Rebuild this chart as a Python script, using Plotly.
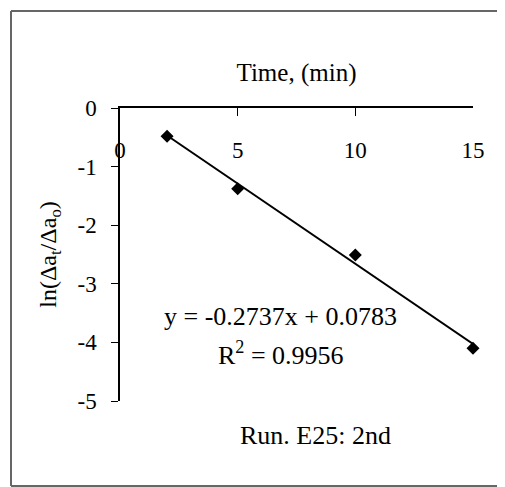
import plotly.graph_objects as go

time_min = [2, 5, 10, 15]
ln_ratio = [-0.48, -1.38, -2.51, -4.10]
slope = -0.2737
intercept = 0.0783
trend_x = [2, 15]
trend_y = [slope * x + intercept for x in trend_x]
x_ticks = [0, 5, 10, 15]
x_labels = ["0", "5", "10", "15"]
y_ticks = [0, -1, -2, -3, -4, -5]
y_labels = ["0", "-1", "-2", "-3", "-4", "-5"]

FONT = "Liberation Serif"
OFF = 8  # page body margin
W, H = 505 - OFF, 487 - OFF
L, R, T, B = 120 - OFF, W - (473 - OFF), 108 - OFF, H - (401 - OFF)
PW, PH = W - L - R, H - T - B

def px_y(p):
    return (H - B - (p - OFF)) / PH

def px_x(p):
    return ((p - OFF) - L) / PW

fig = go.Figure()
fig.add_trace(go.Scatter(x=trend_x, y=trend_y, mode="lines",
                         line=dict(color="black", width=2), cliponaxis=False,
                         showlegend=False))
fig.add_trace(go.Scatter(x=time_min, y=ln_ratio, mode="markers",
                         marker=dict(symbol="diamond", size=10, color="black"),
                         cliponaxis=False, showlegend=False))
# invisible helper trace so the second x axis (tick labels) is drawn
fig.add_trace(go.Scatter(x=[None], y=[None], xaxis="x2", showlegend=False,
                         hoverinfo="skip"))

border = dict(color="#666666", width=2)
fig.update_layout(
    width=W, height=H,
    margin=dict(l=L, r=R, t=T, b=B),
    paper_bgcolor="white", plot_bgcolor="white",
    font=dict(family=FONT, size=23, color="black"),
    xaxis=dict(range=[0, 15], side="top", tickvals=x_ticks,
               ticks="inside", ticklen=8, tickcolor="black",
               showticklabels=False, automargin=False,
               showline=True, linecolor="black", linewidth=1.5,
               showgrid=False, zeroline=False,
               title=dict(text="Time, (min)", font=dict(size=25), standoff=18)),
    xaxis2=dict(range=[0, 15], overlaying="x", anchor="free", side="bottom",
                position=px_y(134), tickvals=x_ticks, ticktext=x_labels,
                ticks="", showline=False, showgrid=False, zeroline=False,
                automargin=False, tickfont=dict(size=23)),
    yaxis=dict(range=[-5, 0], tickvals=y_ticks, ticktext=y_labels,
               ticks="outside", ticklen=7, tickcolor="black",
               ticklabelstandoff=10, automargin=False,
               showline=True, linecolor="black", linewidth=1.5,
               showgrid=False, zeroline=False,
               title=dict(text="ln(Δa<sub>t</sub>/Δa<sub>o</sub>)", font=dict(size=24), standoff=14)),
    annotations=[
        dict(text="y = -0.2737x + 0.0783", x=px_x(280), y=px_y(333), xref="paper", yref="paper",
             showarrow=False, font=dict(size=26)),
        dict(text="R<sup>2</sup> = 0.9956", x=px_x(281), y=px_y(372), xref="paper", yref="paper",
             showarrow=False, font=dict(size=26)),
        dict(text="Run. E25: 2nd", x=px_x(315), y=px_y(452), xref="paper", yref="paper",
             showarrow=False, font=dict(size=26)),
    ],
    shapes=[
        dict(type="line", xref="paper", yref="paper", x0=px_x(11), x1=px_x(11),
             y0=px_y(486), y1=px_y(11), line=border),
        dict(type="line", xref="paper", yref="paper", x0=px_x(11), x1=px_x(505),
             y0=px_y(11), y1=px_y(11), line=border),
        dict(type="line", xref="paper", yref="paper", x0=px_x(11), x1=px_x(505),
             y0=px_y(486), y1=px_y(486), line=border),
    ],
)

fig.write_html("out.html")
